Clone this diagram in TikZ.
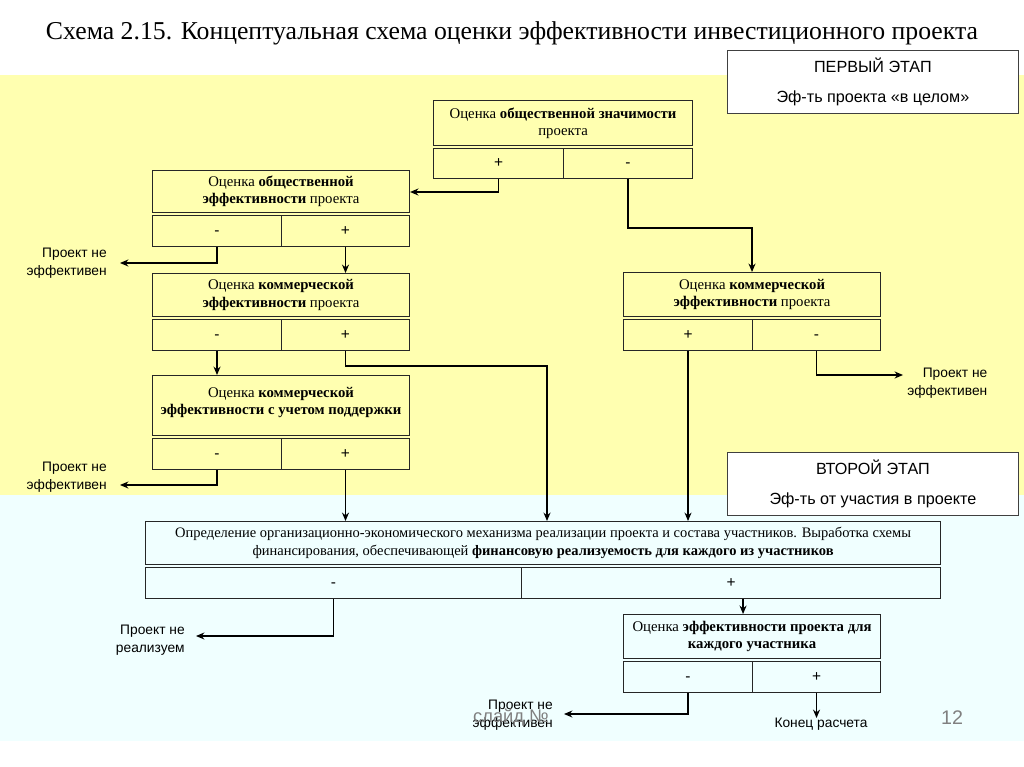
\documentclass[tikz,border=0pt]{standalone}
\usepackage{fontspec}
\setmainfont{Liberation Serif}
\setsansfont{Liberation Sans}
\usetikzlibrary{arrows.meta}

\definecolor{bgyellow}{RGB}{255,255,176}
\definecolor{bgcyan}{RGB}{240,255,255}
\definecolor{slidegray}{RGB}{128,128,128}

\tikzset{
  head/.style={draw=black!85, line width=0.7pt, anchor=north west, inner sep=1pt,
    align=center, font=\fontsize{10.5}{12.3}\selectfont},
  cell/.style={draw=black!85, line width=0.7pt, anchor=north west, inner sep=0pt,
    text height=1.6ex, text depth=0.3ex, font=\sffamily\fontsize{11}{13}\selectfont},
  outcome/.style={align=right, inner sep=0pt, font=\sffamily\fontsize{9.8}{12.5}\selectfont},
  stage/.style={draw=black!75, fill=white, line width=0.5pt, anchor=north west,
    minimum width=7.275cm, minimum height=1.575cm, align=center, inner sep=0pt,
    font=\sffamily\fontsize{11.5}{21.5}\selectfont},
  flow/.style={line width=0.8pt, -{Stealth[length=6pt,width=5pt]}},
}

\begin{document}
\begin{tikzpicture}[x=0.025cm, y=-0.025cm]
  \useasboundingbox (0,0) rectangle (1024,767);
  % background bands
  \fill[bgyellow] (0,75) rectangle (1024,495);
  \fill[bgcyan] (0,495) rectangle (1024,741);

  \node[font=\fontsize{18.3}{20}\selectfont] (title) at (512,33)
    {Схема 2.15. Концептуальная схема оценки эффективности инвестиционного проекта};

  % stages
  \node[stage] (stage1) at (727,50) {ПЕРВЫЙ ЭТАП\\Эф-ть проекта «в целом»};
  \node[stage] (stage2) at (727,452) {ВТОРОЙ ЭТАП\\Эф-ть от участия в проекте};

  % box 1: social significance
  \node[head, minimum width=6.475cm, minimum height=1.125cm] (b1) at (433,100)
    {Оценка \textbf{общественной значимости}\\проекта};
  \node[cell, minimum width=3.25cm, minimum height=0.75cm] (b1p) at (433,148) {+};
  \node[cell, minimum width=3.225cm, minimum height=0.75cm] (b1m) at (563,148) {-};

  % box 2: social efficiency
  \node[head, minimum width=6.425cm, minimum height=1.05cm] (b2) at (152,170)
    {Оценка \textbf{общественной}\\\textbf{эффективности} проекта};
  \node[cell, minimum width=3.225cm, minimum height=0.775cm] (b2m) at (152,215) {-};
  \node[cell, minimum width=3.2cm, minimum height=0.775cm] (b2p) at (281,215) {+};

  % box 3: commercial efficiency
  \node[head, minimum width=6.425cm, minimum height=1.075cm] (b3) at (152,273)
    {Оценка \textbf{коммерческой}\\\textbf{эффективности} проекта};
  \node[cell, minimum width=3.225cm, minimum height=0.775cm] (b3m) at (152,319) {-};
  \node[cell, minimum width=3.2cm, minimum height=0.775cm] (b3p) at (281,319) {+};

  % box 4: with support
  \node[head, minimum width=6.425cm, minimum height=1.5cm] (b4) at (152,375)
    {Оценка \textbf{коммерческой}\\\textbf{эффективности с учетом поддержки}\\[-6pt]};
  \node[cell, minimum width=3.225cm, minimum height=0.775cm] (b4m) at (152,438) {-};
  \node[cell, minimum width=3.2cm, minimum height=0.775cm] (b4p) at (281,438) {+};

  % box 5: commercial efficiency, right branch
  \node[head, minimum width=6.425cm, minimum height=1.1cm] (b5) at (623,272)
    {Оценка \textbf{коммерческой}\\\textbf{эффективности} проекта};
  \node[cell, minimum width=3.225cm, minimum height=0.775cm] (b5p) at (623,319) {+};
  \node[cell, minimum width=3.2cm, minimum height=0.775cm] (b5m) at (752,319) {-};

  % box 6: financing
  \node[head, minimum width=19.875cm, minimum height=1.075cm, font=\fontsize{10.3}{12.3}\selectfont] (b6) at (145,521)
    {Определение организационно-экономического механизма реализации проекта и состава участников. Выработка схемы\\
     финансирования, обеспечивающей \textbf{финансовую реализуемость для каждого из участников}};
  \node[cell, minimum width=9.4cm, minimum height=0.775cm] (b6m) at (145,567) {-};
  \node[cell, minimum width=10.475cm, minimum height=0.775cm] (b6p) at (521,567) {+};

  % box 7: per participant
  \node[head, minimum width=6.425cm, minimum height=1.1cm] (b7) at (623,614)
    {Оценка \textbf{эффективности проекта для}\\\textbf{каждого участника}};
  \node[cell, minimum width=3.225cm, minimum height=0.775cm] (b7m) at (623,661) {-};
  \node[cell, minimum width=3.2cm, minimum height=0.775cm] (b7p) at (752,661) {+};

  % outcomes
  \node[outcome, anchor=east] (ne1) at (107,263) {Проект не\\эффективен};
  \node[outcome, anchor=east] (ne2) at (107,477) {Проект не\\эффективен};
  \node[outcome, anchor=west] (ne3) at (907,383) {Проект не\\эффективен};
  \node[outcome, anchor=east] (nr) at (185,640) {Проект не\\реализуем};
  \node[outcome, anchor=east] (ne4) at (553,715) {Проект не\\эффективен};
  \node[outcome, anchor=north] (end) at (821,718) {Конец расчета};
  \coordinate (t1) at (120,263);
  \coordinate (t2) at (120,485);
  \coordinate (t3) at (903,375);
  \coordinate (t4) at (196,636);
  \coordinate (t5) at (564,714);
  \coordinate (j3) at (547,366);

  % slide footer
  \node[font=\sffamily\fontsize{13}{14}\selectfont, text=slidegray] (slide) at (511,718) {слайд №};
  \node[font=\sffamily\fontsize{14}{15}\selectfont, text=slidegray] (num) at (952,718) {12};

  % connectors
  \draw[flow] (b1p.south) |- (b1p.south |- 0,192) -- (b2.east |- 0,192);
  \draw[flow] (b1m.south) |- (b5.north |- 0,228) -- (b5.north);
  \draw[flow] (b2m.south) |- (t1);
  \draw[flow] (b2p.south) -- (b2p.south |- b3.north);
  \draw[flow] (b3m.south) -- (b3m.south |- b4.north);
  \draw[flow] (b3p.south) |- (j3) -- (j3 |- b6.north);
  \draw[flow] (b4m.south) |- (t2);
  \draw[flow] (b4p.south) -- (b4p.south |- b6.north);
  \draw[flow] (b5p.south) -- (b5p.south |- b6.north);
  \draw[flow] (b5m.south) |- (t3);
  \draw[flow] (b6m.south) |- (t4);
  \draw[flow] ([xshift=0.3cm]b6p.south) -- ([xshift=0.3cm]b6p.south |- b7.north);
  \draw[flow] (b7m.south) |- (t5);
  \draw[flow] (b7p.south) -- (b7p.south |- end.north);
\end{tikzpicture}
\end{document}
